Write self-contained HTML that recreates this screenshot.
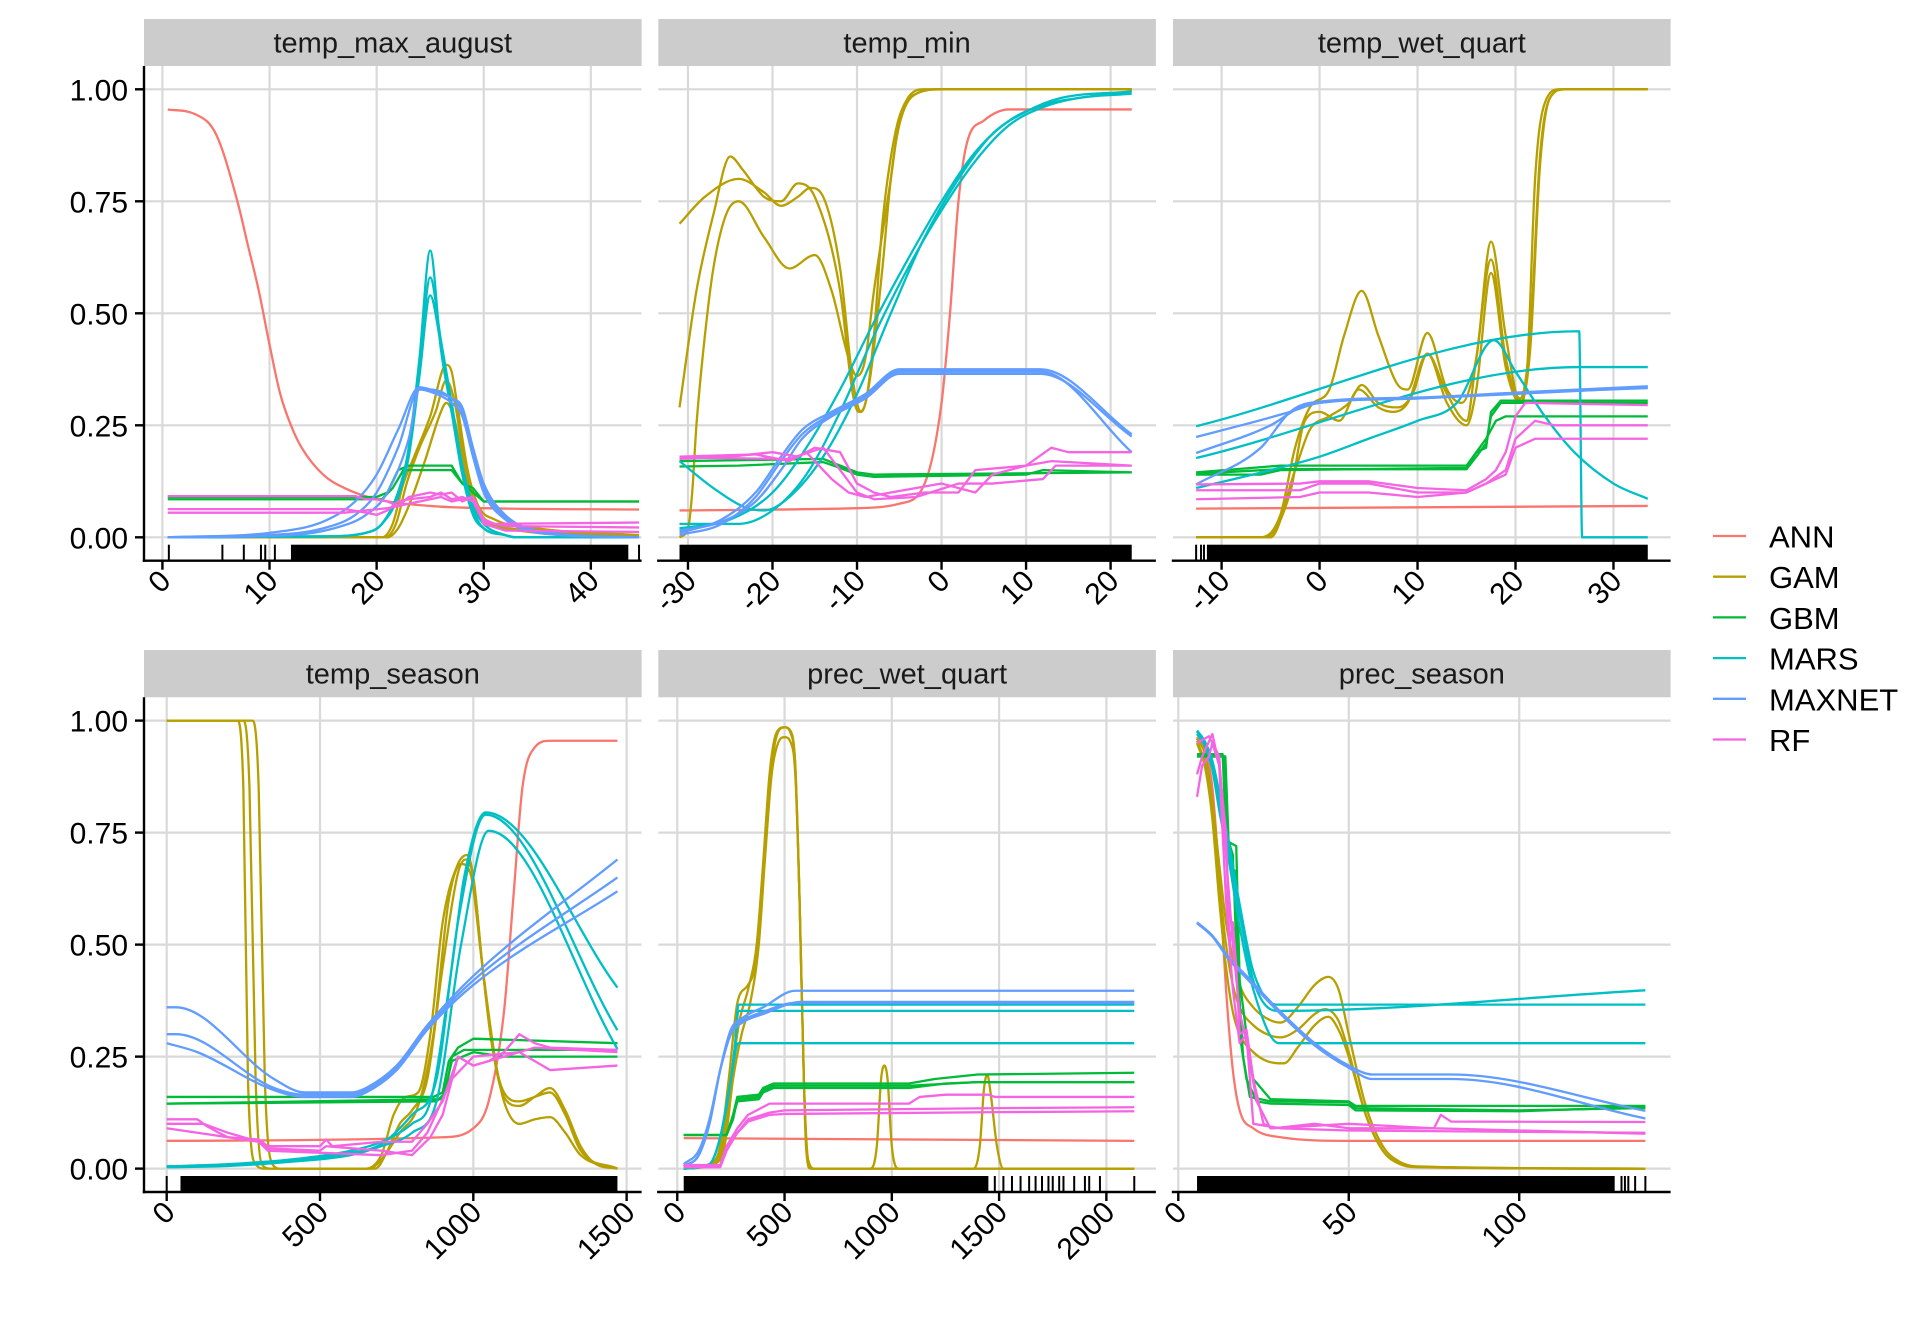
<!DOCTYPE html>
<html><head><meta charset="utf-8">
<style>
html,body{margin:0;padding:0;background:#fff;}
svg{display:block;font-family:"Liberation Sans",Arial,sans-serif;}
</style></head>
<body>
<svg id="chart" width="1920" height="1344" viewBox="0 0 1920 1344" xmlns="http://www.w3.org/2000/svg">
<rect x="0" y="0" width="1920" height="1344" fill="#fff"/>
<g id="panels"></g>
<g id="legend"></g>
</svg>
<script>
// ---------- model names & colours ----------
const models = ["ANN","GAM","GBM","MARS","MAXNET","RF"];
const colors = ["#F8766D","#B79F00","#00BA38","#00BFC4","#619CFF","#F564E3"];
const smoothModels = [true,true,false,true,true,false];
const yTicks = [0,0.25,0.5,0.75,1];
const yTickLabels = ["0.00","0.25","0.50","0.75","1.00"];

// ---------- panel 1: temp_max_august ----------
const p1_ticks = [0,10,20,30,40];
const p1_ANN = [[[0.5,0.955],[3,0.945],[5,0.9],[7,0.75],[8,0.65],[9,0.55],[10,0.43],[11,0.32],[12,0.25],[13,0.2],[15,0.14],[17,0.11],[20,0.085],[25,0.07],[30,0.065],[44.5,0.062]]];
const p1_GAM = [
 [[0.5,0],[20.5,0],[21.5,0.03],[22.5,0.12],[23.5,0.18],[25,0.27],[26.5,0.385],[27,0.37],[27.5,0.3],[28.5,0.15],[29.5,0.07],[31,0.04],[35,0.02],[44.5,0.005]],
 [[0.5,0],[20.8,0],[21.8,0.03],[22.8,0.12],[24,0.2],[25.5,0.28],[26.5,0.35],[27.3,0.3],[28.3,0.15],[29.5,0.06],[31,0.03],[35,0.015],[44.5,0.003]],
 [[0.5,0],[21,0],[22,0.02],[23,0.07],[24.5,0.17],[26,0.28],[26.5,0.3],[27.3,0.26],[28.3,0.13],[29.5,0.05],[31,0.025],[44.5,0]]];
const p1_GBM = [
 [[0.5,0.09],[20,0.09],[21,0.1],[22,0.15],[23,0.16],[27,0.16],[28,0.12],[29,0.11],[30,0.08],[44.5,0.08]],
 [[0.5,0.085],[20.5,0.085],[21.5,0.11],[22.5,0.15],[27,0.15],[28,0.12],[29,0.1],[30,0.08],[44.5,0.08]]];
const p1_MARS = [
 [[0.5,0],[15,0.002],[19,0.01],[20.5,0.03],[22,0.1],[23,0.2],[24,0.4],[25,0.64],[26,0.42],[27,0.28],[28,0.14],[29,0.05],[30,0.02],[32,0.005],[33,0],[44.5,0]],
 [[0.5,0],[15,0.002],[19,0.01],[20.5,0.03],[22,0.1],[23,0.19],[24,0.38],[25,0.58],[26,0.44],[27,0.3],[28,0.15],[29,0.06],[30,0.02],[32,0.005],[33,0],[44.5,0]],
 [[0.5,0],[15,0.002],[19,0.01],[20.5,0.03],[22,0.09],[23,0.18],[24,0.36],[25,0.54],[26,0.43],[27,0.3],[28,0.16],[29,0.07],[30,0.03],[32,0.005],[33,0],[44.5,0]]];
const p1_MAXNET = [
 [[0.5,0],[10,0.01],[15,0.035],[18,0.08],[20,0.14],[22,0.24],[24,0.335],[25,0.33],[27,0.31],[28,0.29],[29,0.2],[30,0.12],[32,0.05],[35,0.015],[44.5,0]],
 [[0.5,0],[10,0.005],[15,0.02],[18,0.05],[20,0.1],[22,0.2],[24,0.33],[25,0.33],[27,0.31],[28,0.28],[29,0.19],[30,0.11],[32,0.045],[35,0.012],[44.5,0]],
 [[0.5,0],[12,0.005],[16,0.02],[19,0.05],[21,0.1],[23,0.22],[24,0.33],[25,0.325],[27,0.3],[28,0.27],[29,0.18],[30,0.1],[32,0.04],[35,0.01],[44.5,0]]];
const p1_RF = [
 [[0.5,0.092],[18,0.092],[19,0.085],[20,0.085],[21,0.08],[22,0.07],[23,0.09],[24,0.095],[25,0.1],[26,0.095],[27,0.1],[28,0.08],[29,0.09],[30,0.04],[31,0.03],[44.5,0.033]],
 [[0.5,0.063],[17,0.063],[19,0.055],[20,0.05],[21,0.06],[22,0.08],[23,0.085],[25,0.09],[26,0.1],[27,0.085],[28,0.09],[29,0.08],[30,0.035],[32,0.025],[44.5,0.022]],
 [[0.5,0.055],[17,0.055],[19,0.06],[21,0.065],[22,0.07],[24,0.08],[26,0.09],[27,0.08],[29,0.09],[30,0.03],[32,0.015],[44.5,0.012]]];
const p1_rugDense = [[12,43.5]];
const p1_rugTicks = [0.6,5.6,7.6,9.2,9.6,10.5,44.5];

// ---------- panel 2: temp_min ----------
const p2_ticks = [-30,-20,-10,0,10,20];
const p2_ANN = [[[-31,0.06],[-10,0.065],[-5,0.075],[-2,0.12],[0,0.3],[1,0.5],[2,0.75],[3,0.88],[5,0.93],[8,0.955],[22.5,0.955]]];
const p2_GAM = [
 [[-31,0.70],[-28,0.76],[-24,0.80],[-21,0.77],[-19,0.74],[-17,0.76],[-15.5,0.78],[-14,0.76],[-12,0.6],[-10.5,0.35],[-9.5,0.28],[-8.5,0.35],[-7,0.6],[-6,0.8],[-5,0.92],[-3,0.99],[0,1],[22.5,1]],
 [[-31,0.29],[-29,0.55],[-27,0.72],[-25,0.85],[-23.5,0.82],[-21,0.76],[-19,0.75],[-17,0.79],[-15,0.76],[-12,0.55],[-10.5,0.32],[-9.8,0.28],[-9,0.3],[-8,0.45],[-7,0.7],[-5.5,0.9],[-4,0.98],[-2,1],[22.5,1]],
 [[-31,0],[-30,0.02],[-29.5,0.1],[-29,0.25],[-28,0.45],[-27,0.6],[-25.5,0.72],[-24,0.75],[-21,0.67],[-18,0.6],[-15,0.63],[-13,0.55],[-11,0.4],[-10,0.36],[-9,0.4],[-8,0.55],[-6,0.8],[-5,0.93],[-3,0.99],[0,1],[22.5,1]]];
const p2_GBM = [
 [[-31,0.17],[-14,0.175],[-12,0.16],[-10,0.145],[-8,0.14],[22.5,0.145]],
 [[-31,0.158],[-24,0.16],[-14,0.168],[-12,0.155],[-10,0.14],[-8,0.135],[10,0.14],[12,0.15],[22.5,0.145]]];
const p2_MARS = [
 [[-31,0.17],[-27,0.11],[-23,0.065],[-21,0.06],[-18,0.09],[-14,0.18],[-10,0.32],[-6,0.5],[-2,0.67],[2,0.8],[6,0.9],[10,0.95],[14,0.98],[22.5,0.995]],
 [[-31,0.03],[-24,0.03],[-20,0.06],[-16,0.14],[-12,0.28],[-8,0.45],[-4,0.6],[0,0.73],[4,0.84],[8,0.92],[12,0.96],[16,0.98],[22.5,0.99]],
 [[-31,0.02],[-25,0.04],[-20,0.1],[-16,0.2],[-12,0.33],[-8,0.48],[-4,0.62],[0,0.75],[4,0.86],[8,0.93],[12,0.965],[16,0.98],[22.5,0.995]]];
const p2_MAXNET = [
 [[-31,0.01],[-26,0.04],[-22,0.1],[-19,0.18],[-16.5,0.24],[-13,0.28],[-9,0.32],[-5,0.375],[11.7,0.375],[22.5,0.23]],
 [[-31,0.005],[-26,0.03],[-22,0.09],[-19,0.17],[-16.5,0.23],[-13,0.275],[-9,0.315],[-5,0.37],[11.7,0.37],[22.5,0.19]],
 [[-31,0.015],[-26,0.035],[-22,0.08],[-19,0.15],[-16.5,0.22],[-13,0.27],[-9,0.31],[-5,0.365],[11.7,0.365],[22.5,0.225]]];
const p2_RF = [
 [[-31,0.175],[-25,0.18],[-20,0.19],[-17,0.18],[-15,0.2],[-12,0.19],[-10,0.12],[-8,0.1],[-6,0.09],[-2,0.1],[2,0.1],[4,0.15],[10,0.16],[13,0.2],[15,0.19],[22.5,0.19]],
 [[-31,0.18],[-22,0.185],[-18,0.17],[-16,0.19],[-13,0.13],[-11,0.1],[-9,0.09],[-6,0.1],[0,0.12],[4,0.1],[6,0.14],[10,0.16],[13,0.17],[22.5,0.16]],
 [[-31,0.178],[-18,0.175],[-14,0.2],[-12,0.15],[-10,0.1],[-8,0.085],[-3,0.09],[2,0.12],[6,0.12],[12,0.13],[13.5,0.16],[22.5,0.16]]];
const p2_rugDense = [[-31,22.5]];
const p2_rugTicks = [];

// ---------- panel 3: temp_wet_quart ----------
const p3_ticks = [-10,0,10,20,30];
const p3_ANN = [[[-12.6,0.064],[33.5,0.07]]];
const p3_GAM = [
 [[-12.6,0],[-6,0],[-4,0.05],[-2.5,0.2],[-1,0.29],[1,0.33],[2.5,0.45],[4.3,0.55],[6,0.45],[8,0.34],[9,0.33],[11,0.456],[13,0.33],[14.5,0.3],[16,0.4],[17.5,0.66],[19,0.45],[20.5,0.3],[21.2,0.38],[22,0.8],[23,0.97],[24.5,1],[33.5,1]],
 [[-12.6,0],[-5.5,0],[-3,0.1],[-1.5,0.26],[0,0.28],[2,0.26],[4,0.33],[6,0.29],[7.5,0.28],[9,0.3],[11,0.41],[13,0.32],[15,0.26],[16,0.4],[17.5,0.62],[19,0.4],[20.5,0.31],[21.5,0.45],[22.5,0.85],[23.5,0.98],[25,1],[33.5,1]],
 [[-12.6,0],[-5,0],[-2.5,0.15],[-1,0.24],[1,0.27],[3,0.3],[4.3,0.34],[6,0.3],[8,0.29],[9.5,0.32],[11,0.41],[13,0.3],[15,0.25],[16,0.33],[17.5,0.59],[19,0.38],[20.5,0.3],[21.5,0.42],[22.5,0.83],[23.5,0.98],[25,1],[33.5,1]]];
const p3_GBM = [
 [[-12.6,0.14],[-6,0.14],[-4,0.15],[15,0.155],[16,0.19],[17,0.2],[17.5,0.28],[18.5,0.305],[33.5,0.305]],
 [[-12.6,0.145],[-4,0.16],[15,0.16],[16,0.19],[17,0.22],[18,0.26],[19,0.27],[33.5,0.27]],
 [[-12.6,0.142],[-4,0.152],[15,0.152],[16,0.18],[17,0.21],[17.5,0.27],[18.5,0.3],[33.5,0.3]]];
const p3_MARS = [
 [[-12.6,0.248],[26.5,0.46],[26.8,0],[33.5,0]],
 [[-12.6,0.177],[26.5,0.38],[33.5,0.38]],
 [[-12.6,0.11],[-5,0.15],[0,0.18],[5,0.22],[10,0.26],[14,0.3],[17.8,0.44],[20,0.37],[23,0.27],[26,0.19],[30,0.12],[33.5,0.086]]];
const p3_MAXNET = [
 [[-12.6,0.188],[-5,0.25],[-2,0.29],[0,0.3],[10,0.31],[20,0.32],[33.5,0.335]],
 [[-12.6,0.224],[-8,0.25],[-3,0.28],[0,0.3],[10,0.31],[20,0.322],[33.5,0.333]],
 [[-12.6,0.118],[-6,0.2],[-3,0.28],[-1,0.3],[10,0.312],[20,0.323],[33.5,0.337]]];
const p3_RF = [
 [[-12.6,0.118],[-2,0.12],[0,0.125],[5,0.125],[10,0.11],[15,0.105],[17,0.13],[18,0.15],[19,0.19],[20,0.27],[21,0.3],[33.5,0.295]],
 [[-12.6,0.105],[-2,0.105],[0,0.12],[5,0.12],[10,0.1],[15,0.1],[17,0.12],[19,0.15],[20,0.22],[22,0.26],[24,0.25],[33.5,0.25]],
 [[-12.6,0.085],[-2,0.09],[0,0.1],[5,0.1],[10,0.09],[15,0.1],[17,0.12],[19,0.14],[20,0.2],[22,0.22],[24,0.22],[33.5,0.22]]];
const p3_rugDense = [[-11.5,33.5]];
const p3_rugTicks = [-12.6,-12.1,-11.8];

// ---------- panel 4: temp_season ----------
const p4_ticks = [0,500,1000,1500];
const p4_ANN = [[[0,0.062],[900,0.07],[1000,0.09],[1050,0.15],[1100,0.35],[1130,0.6],[1160,0.85],[1200,0.94],[1250,0.955],[1470,0.955]]];
const p4_GAM = [
 [[0,1],[230,1],[250,0.85],[265,0.2],[290,0.01],[320,0],[650,0],[700,0.03],[740,0.12],[780,0.16],[820,0.17],[860,0.3],[900,0.55],[950,0.68],[980,0.7],[1000,0.65],[1030,0.45],[1060,0.28],[1100,0.16],[1150,0.14],[1200,0.16],[1250,0.18],[1300,0.13],[1350,0.05],[1400,0.01],[1470,0]],
 [[0,1],[250,1],[270,0.85],[290,0.2],[310,0.01],[340,0],[680,0],[720,0.04],[760,0.1],[800,0.13],[850,0.2],[900,0.45],[950,0.66],[975,0.69],[1000,0.65],[1030,0.45],[1060,0.28],[1100,0.17],[1150,0.15],[1200,0.16],[1250,0.17],[1300,0.12],[1350,0.04],[1470,0]],
 [[0,1],[280,1],[300,0.85],[320,0.2],[345,0.01],[370,0],[660,0],[700,0.02],[760,0.08],[820,0.14],[870,0.3],[920,0.6],[960,0.68],[990,0.66],[1030,0.45],[1070,0.25],[1100,0.15],[1150,0.1],[1200,0.11],[1250,0.115],[1300,0.08],[1350,0.03],[1470,0]]];
const p4_GBM = [
 [[0,0.16],[870,0.16],[900,0.17],[920,0.24],[950,0.27],[1000,0.29],[1470,0.28]],
 [[0,0.145],[880,0.15],[910,0.17],[930,0.25],[970,0.265],[1100,0.265],[1470,0.265]],
 [[0,0.145],[900,0.155],[930,0.24],[1000,0.26],[1100,0.25],[1470,0.25]]];
const p4_MARS = [
 [[0,0.005],[200,0.01],[400,0.02],[600,0.04],[700,0.06],[800,0.1],[860,0.15],[930,0.45],[970,0.65],[1040,0.795],[1470,0.404]],
 [[0,0.005],[200,0.008],[400,0.018],[600,0.035],[700,0.055],[800,0.12],[880,0.2],[950,0.55],[1040,0.79],[1470,0.309]],
 [[0,0.003],[200,0.006],[400,0.015],[600,0.03],[700,0.05],[800,0.08],[880,0.15],[960,0.5],[1050,0.754],[1470,0.267]]];
const p4_MAXNET = [
 [[0,0.36],[30,0.36],[350,0.2],[450,0.17],[600,0.17],[650,0.18],[750,0.23],[850,0.32],[1000,0.43],[1470,0.69]],
 [[0,0.3],[30,0.3],[350,0.18],[450,0.165],[600,0.165],[650,0.175],[750,0.225],[850,0.315],[1000,0.42],[1470,0.65]],
 [[0,0.28],[100,0.26],[350,0.175],[450,0.16],[600,0.16],[650,0.17],[750,0.22],[850,0.31],[1000,0.41],[1470,0.619]]];
const p4_RF = [
 [[0,0.11],[100,0.11],[130,0.095],[170,0.08],[200,0.07],[300,0.065],[330,0.05],[500,0.05],[520,0.065],[540,0.05],[700,0.06],[800,0.06],[850,0.1],[900,0.15],[950,0.25],[1000,0.23],[1050,0.24],[1100,0.26],[1150,0.3],[1200,0.28],[1250,0.27],[1470,0.265]],
 [[0,0.1],[120,0.1],[200,0.08],[300,0.06],[330,0.045],[500,0.04],[520,0.05],[700,0.04],[800,0.03],[860,0.07],[900,0.12],[950,0.25],[1000,0.23],[1100,0.25],[1200,0.27],[1470,0.26]],
 [[0,0.09],[200,0.07],[300,0.06],[330,0.04],[700,0.03],[800,0.04],[850,0.08],[930,0.2],[1000,0.25],[1150,0.26],[1250,0.22],[1470,0.23]]];
const p4_rugDense = [[45,1470]];
const p4_rugTicks = [0];

// ---------- panel 5: prec_wet_quart ----------
const p5_ticks = [0,500,1000,1500,2000];
const p5_ANN = [[[30,0.068],[2130,0.062]]];
const p5_GAM = [
 [[30,0],[150,0.01],[200,0.05],[240,0.2],[280,0.37],[330,0.41],[360,0.45],[400,0.65],[430,0.85],[460,0.96],[500,0.985],[530,0.97],[550,0.9],[570,0.6],[590,0.2],[600,0.05],[620,0],[900,0],[930,0.05],[950,0.2],[965,0.23],[980,0.2],[1000,0.05],[1030,0],[1380,0],[1410,0.05],[1430,0.18],[1445,0.21],[1460,0.17],[1490,0.05],[1520,0],[2130,0]],
 [[30,0],[160,0.01],[210,0.05],[250,0.2],[290,0.33],[330,0.4],[370,0.5],[400,0.68],[430,0.88],[460,0.97],[500,0.985],[530,0.975],[550,0.9],[570,0.6],[590,0.2],[605,0.03],[630,0],[2130,0]],
 [[30,0],[170,0.01],[220,0.05],[260,0.2],[300,0.3],[340,0.37],[380,0.5],[410,0.7],[440,0.88],[470,0.95],[500,0.963],[530,0.95],[550,0.88],[570,0.6],[590,0.2],[610,0.02],[640,0],[2130,0]]];
const p5_GBM = [
 [[30,0.075],[230,0.075],[260,0.12],[280,0.16],[380,0.165],[400,0.18],[450,0.19],[1080,0.19],[1200,0.2],[1400,0.21],[2130,0.214]],
 [[30,0.075],[230,0.075],[260,0.11],[280,0.155],[380,0.16],[400,0.175],[450,0.185],[1080,0.185],[1200,0.188],[1400,0.193],[2130,0.193]],
 [[30,0.075],[230,0.075],[260,0.115],[280,0.15],[380,0.155],[400,0.17],[450,0.18],[1080,0.18],[1250,0.19],[1400,0.193],[2130,0.193]]];
const p5_MARS = [
 [[30,0],[150,0.01],[200,0.07],[250,0.2],[270,0.28],[285,0.366],[2130,0.366]],
 [[30,0],[150,0.01],[200,0.07],[250,0.2],[270,0.28],[285,0.352],[2130,0.352]],
 [[30,0],[150,0.01],[200,0.07],[250,0.2],[285,0.28],[2130,0.28]]];
const p5_MAXNET = [
 [[30,0.005],[100,0.03],[150,0.1],[200,0.22],[250,0.31],[300,0.33],[400,0.35],[550,0.37],[600,0.37],[2130,0.37]],
 [[30,0.005],[100,0.03],[150,0.1],[200,0.22],[250,0.31],[300,0.335],[400,0.36],[550,0.397],[2130,0.397]],
 [[30,0.01],[100,0.04],[150,0.11],[200,0.22],[250,0.3],[300,0.325],[400,0.345],[580,0.372],[2130,0.372]]];
const p5_RF = [
 [[30,0.005],[200,0.005],[230,0.05],[280,0.09],[330,0.12],[430,0.145],[1080,0.145],[1130,0.16],[1250,0.165],[1450,0.165],[1480,0.16],[2130,0.16]],
 [[30,0.003],[200,0.003],[230,0.04],[280,0.08],[330,0.11],[430,0.125],[500,0.13],[1500,0.135],[2130,0.137]],
 [[30,0.008],[200,0.008],[230,0.05],[280,0.08],[330,0.105],[430,0.12],[500,0.122],[1500,0.126],[2130,0.128]]];
const p5_rugDense = [[30,1450]];
const p5_rugTicks = [1480,1520,1560,1600,1640,1670,1700,1730,1750,1780,1800,1850,1900,1920,1970,2130];

// ---------- panel 6: prec_season ----------
const p6_ticks = [0,50,100];
const p6_ANN = [[[5.5,0.963],[8,0.93],[10,0.85],[12,0.65],[14,0.4],[16,0.22],[18,0.13],[22,0.09],[30,0.07],[50,0.062],[137,0.062]]];
const p6_GAM = [
 [[5.5,0.96],[8,0.92],[10,0.82],[12,0.68],[14,0.55],[16,0.47],[18,0.41],[22,0.36],[26,0.335],[30,0.326],[35,0.36],[40,0.41],[44,0.428],[47,0.4],[50,0.3],[55,0.14],[60,0.05],[65,0.015],[70,0.005],[137,0]],
 [[5.5,0.955],[8,0.9],[10,0.8],[12,0.64],[14,0.5],[16,0.41],[18,0.36],[22,0.32],[26,0.3],[30,0.293],[35,0.31],[40,0.345],[43,0.356],[47,0.33],[50,0.26],[55,0.12],[60,0.04],[65,0.012],[70,0.004],[137,0]],
 [[5.5,0.95],[8,0.89],[10,0.78],[12,0.6],[14,0.45],[16,0.35],[18,0.3],[22,0.26],[26,0.24],[31,0.235],[35,0.27],[40,0.32],[44,0.339],[47,0.31],[50,0.25],[55,0.12],[60,0.04],[65,0.01],[70,0.003],[137,0]]];
const p6_GBM = [
 [[5.5,0.92],[13.5,0.92],[14.5,0.73],[17,0.72],[18,0.42],[20,0.3],[22,0.2],[27,0.155],[50,0.15],[52,0.14],[90,0.14],[137,0.14]],
 [[5.5,0.925],[13,0.925],[14,0.75],[16,0.7],[17,0.5],[19,0.25],[21,0.16],[27,0.15],[50,0.148],[52,0.135],[100,0.13],[137,0.135]],
 [[5.5,0.92],[13.8,0.92],[15,0.68],[17,0.66],[18,0.3],[20,0.2],[23,0.15],[27,0.145],[50,0.142],[52,0.13],[100,0.128],[137,0.138]]];
const p6_MARS = [
 [[5.5,0.978],[8,0.95],[10,0.9],[12,0.82],[15,0.7],[18,0.57],[22,0.42],[29,0.352],[137,0.398]],
 [[5.5,0.975],[8,0.95],[10,0.91],[12,0.84],[15,0.72],[18,0.59],[22,0.44],[29,0.366],[137,0.366]],
 [[5.5,0.97],[8,0.94],[10,0.89],[12,0.8],[15,0.68],[18,0.54],[22,0.4],[29.5,0.28],[137,0.28]]];
const p6_MAXNET = [
 [[5.5,0.55],[10,0.52],[15,0.47],[20,0.43],[30,0.35],[40,0.28],[50,0.23],[57,0.21],[80,0.21],[137,0.129]],
 [[5.5,0.548],[10,0.518],[15,0.465],[20,0.425],[30,0.345],[40,0.275],[50,0.225],[57,0.2],[80,0.2],[137,0.112]]];
const p6_RF = [
 [[5.5,0.83],[7,0.9],[9,0.92],[10,0.95],[12,0.9],[14,0.75],[15,0.5],[16,0.55],[17,0.45],[18,0.3],[20,0.31],[22,0.2],[25,0.1],[28,0.09],[40,0.1],[50,0.09],[75,0.09],[77,0.12],[80,0.105],[137,0.104]],
 [[5.5,0.88],[7,0.92],[10,0.97],[12,0.9],[14,0.6],[16,0.4],[18,0.28],[20,0.3],[22,0.1],[30,0.09],[50,0.085],[137,0.08]],
 [[5.5,0.95],[9,0.965],[12,0.92],[14,0.7],[16,0.5],[18,0.35],[20,0.28],[23,0.15],[27,0.09],[50,0.1],[75,0.09],[137,0.078]]];
const p6_rugDense = [[5.5,128]];
const p6_rugTicks = [130,131,132,134,137];

// ---------- layout ----------
const SVGNS = "http://www.w3.org/2000/svg";
const colL = [144, 658.3, 1173];
const panelW = 497.6;
const rows = [{stripTop:19, top:66, bottom:560.7}, {stripTop:650, top:697.3, bottom:1192}];
const yDom = [-0.0522, 1.052];
const panels = [
 {title:"temp_max_august", row:0, col:0, dom:[-1.72,44.74], ticks:p1_ticks, series:[p1_ANN,p1_GAM,p1_GBM,p1_MARS,p1_MAXNET,p1_RF], rugD:p1_rugDense, rugT:p1_rugTicks},
 {title:"temp_min", row:0, col:1, dom:[-33.51,25.36], ticks:p2_ticks, series:[p2_ANN,p2_GAM,p2_GBM,p2_MARS,p2_MAXNET,p2_RF], rugD:p2_rugDense, rugT:p2_rugTicks},
 {title:"temp_wet_quart", row:0, col:2, dom:[-14.96,35.83], ticks:p3_ticks, series:[p3_ANN,p3_GAM,p3_GBM,p3_MARS,p3_MAXNET,p3_RF], rugD:p3_rugDense, rugT:p3_rugTicks},
 {title:"temp_season", row:1, col:0, dom:[-74,1548.8], ticks:p4_ticks, series:[p4_ANN,p4_GAM,p4_GBM,p4_MARS,p4_MAXNET,p4_RF], rugD:p4_rugDense, rugT:p4_rugTicks},
 {title:"prec_wet_quart", row:1, col:1, dom:[-88.4,2230.8], ticks:p5_ticks, series:[p5_ANN,p5_GAM,p5_GBM,p5_MARS,p5_MAXNET,p5_RF], rugD:p5_rugDense, rugT:p5_rugTicks},
 {title:"prec_season", row:1, col:2, dom:[-1.55,144.4], ticks:p6_ticks, series:[p6_ANN,p6_GAM,p6_GBM,p6_MARS,p6_MAXNET,p6_RF], rugD:p6_rugDense, rugT:p6_rugTicks}
];

function mk(tag, attrs, parent){
  const e = document.createElementNS(SVGNS, tag);
  for (const k in attrs) e.setAttribute(k, attrs[k]);
  parent.appendChild(e);
  return e;
}

// monotone cubic path (Fritsch-Carlson) through pixel points
function monoPath(P){
  const n = P.length;
  if (n < 3) return P.map(function(p,k){return (k?"L":"M")+p[0].toFixed(2)+","+p[1].toFixed(2);}).join("");
  const d = [], m = [];
  for (let i=0;i<n-1;i++){ const dx=P[i+1][0]-P[i][0]; d.push(dx>0?(P[i+1][1]-P[i][1])/dx:0); }
  m.push(d[0]);
  for (let i=1;i<n-1;i++){ m.push(d[i-1]*d[i]<=0?0:(d[i-1]+d[i])/2); }
  m.push(d[n-2]);
  for (let i=0;i<n-1;i++){
    if (d[i]===0){ m[i]=0; m[i+1]=0; continue; }
    const a=m[i]/d[i], b=m[i+1]/d[i], s=a*a+b*b;
    if (s>9){ const t=3/Math.sqrt(s); m[i]=t*a*d[i]; m[i+1]=t*b*d[i]; }
  }
  let s = "M"+P[0][0].toFixed(2)+","+P[0][1].toFixed(2);
  for (let i=0;i<n-1;i++){
    const h=(P[i+1][0]-P[i][0])/3;
    s += "C"+(P[i][0]+h).toFixed(2)+","+(P[i][1]+m[i]*h).toFixed(2)+" "+(P[i+1][0]-h).toFixed(2)+","+(P[i+1][1]-m[i+1]*h).toFixed(2)+" "+P[i+1][0].toFixed(2)+","+P[i+1][1].toFixed(2);
  }
  return s;
}

const root = document.getElementById("panels");
panels.forEach(function(p){
  const r = rows[p.row];
  const L = colL[p.col], R = L + panelW, T = r.top, B = r.bottom;
  const xs = function(v){ return L + (v - p.dom[0]) / (p.dom[1] - p.dom[0]) * (R - L); };
  const ys = function(v){ return B - (v - yDom[0]) / (yDom[1] - yDom[0]) * (B - T); };
  const g = mk("g", {}, root);
  
  

  const strip = mk("rect", {x:L, y:r.stripTop, width:panelW, height:T - r.stripTop, fill:"#cccccc"}, g);
  
  
  const st = mk("text", {x:L + panelW/2, y:(r.stripTop + T)/2 + 10, "text-anchor":"middle", "font-size":"29", fill:"#1a1a1a"}, g);
  st.textContent = p.title;
  
  

  const grid = mk("g", {stroke:"#d9d9d9", "stroke-width":"2.2"}, g);
  
  
  yTicks.forEach(function(t){ mk("line", {x1:L, x2:R, y1:ys(t), y2:ys(t)}, grid); });
  p.ticks.forEach(function(t){ mk("line", {x1:xs(t), x2:xs(t), y1:T, y2:B}, grid); });

  const sg = mk("g", {fill:"none", "stroke-width":"2.3", "stroke-linejoin":"round"}, g);
  
  
  p.series.forEach(function(lines, mi){
    lines.forEach(function(line, li){
      const P = line.map(function(pt){ return [xs(pt[0]), ys(pt[1])]; });
      const d = smoothModels[mi] ? monoPath(P) : P.map(function(q,k){return (k?"L":"M")+q[0].toFixed(2)+","+q[1].toFixed(2);}).join("");
      const path = mk("path", {d:d, stroke:colors[mi]}, sg);
      
      
    });
  });

  const rg = mk("g", {fill:"#000", stroke:"#000", "stroke-width":"2"}, g);
  
  
  p.rugD.forEach(function(iv){ mk("rect", {x:xs(iv[0]), y:B - 16, width:xs(iv[1]) - xs(iv[0]), height:16, stroke:"none"}, rg); });
  p.rugT.forEach(function(v){ mk("line", {x1:xs(v), x2:xs(v), y1:B - 16, y2:B}, rg); });

  const ax = mk("g", {stroke:"#000", "stroke-width":"2.4"}, g);
  
  
  mk("line", {x1:L - 1.2, x2:R, y1:B, y2:B}, ax);
  p.ticks.forEach(function(t){ mk("line", {x1:xs(t), x2:xs(t), y1:B, y2:B + 9}, ax); });

  if (p.col === 0){
    mk("line", {x1:L, x2:L, y1:T, y2:B + 1.2}, ax);
    yTicks.forEach(function(t){ mk("line", {x1:L - 9, x2:L, y1:ys(t), y2:ys(t)}, ax); });
    yTicks.forEach(function(t, i){
      const tx = mk("text", {x:L - 16, y:ys(t) + 11, "text-anchor":"end", "font-size":"30", fill:"#000"}, g);
      tx.textContent = yTickLabels[i];
      
      
    });
  }
  p.ticks.forEach(function(t){
    const xx = xs(t) + 10, yy = B + 22;
    const tx = mk("text", {x:xx, y:yy, "text-anchor":"end", "font-size":"30", fill:"#000", transform:"rotate(-45 " + xx + " " + yy + ")"}, g);
    tx.textContent = String(t);
    
    
  });
});

const lg = document.getElementById("legend");
models.forEach(function(m, i){
  const y = 536 + i * 40.7;
  const it = mk("g", {}, lg);
  
  
  mk("line", {x1:1713, x2:1746, y1:y, y2:y, stroke:colors[i], "stroke-width":"2.3"}, it);
  const tx = mk("text", {x:1769, y:y + 11.5, "font-size":"31", fill:"#000"}, it);
  tx.textContent = m;
});
</script>
</body></html>
